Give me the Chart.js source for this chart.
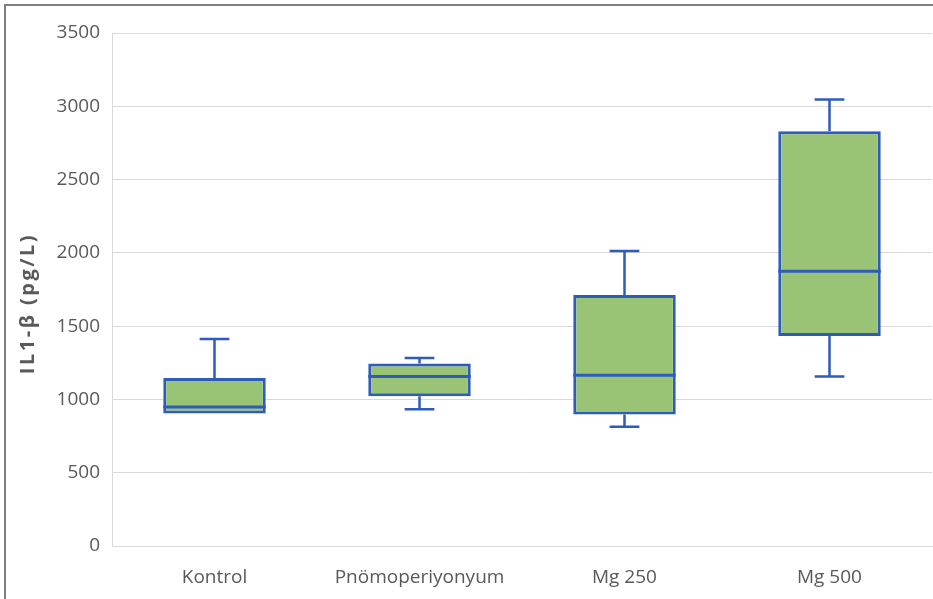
<!DOCTYPE html>
<html>
<head>
<meta charset="utf-8">
<script src="https://cdn.jsdelivr.net/npm/chart.js@4.4.1/dist/chart.umd.min.js"></script>
<style>
  body { margin: 0; background: #fff; }
  #wrap { position: relative; width: 933px; height: 599px; overflow: hidden; }
  #frame { position: absolute; left: 4px; top: 4px; width: 1000px; height: 700px;
           border-left: 2px solid #7f7f7f; border-top: 2px solid #7f7f7f; pointer-events: none; }
</style>
</head>
<body>
<div id="wrap">
  <canvas id="myChart" width="933" height="599"></canvas>
  <div id="frame"></div>
</div>
<script>
// groups
const categories = ["Kontrol", "Pnömoperiyonyum", "Mg 250", "Mg 500"];
// box plot values (pg/L)
const whiskerMin = [900, 933, 814, 1157];
const q1 = [904, 1022, 897, 1433];
const median = [948, 1157, 1165, 1875];
const q3 = [1146, 1245, 1713, 2829];
const whiskerMax = [1412, 1282, 2012, 3047];
const yTicks = [0, 500, 1000, 1500, 2000, 2500, 3000, 3500];

const boxFill = '#99c476';
const edgeBlue = '#2f5cba';
const textGray = '#595959';

// whiskers + median line, drawn on top of the floating bars
const boxWhiskers = {
    id: 'boxWhiskers',
    afterDatasetsDraw(chart) {
        const ctx = chart.ctx;
        const y = chart.scales.y;
        const meta = chart.getDatasetMeta(0);
        ctx.save();
        ctx.strokeStyle = edgeBlue;
        meta.data.forEach((bar, i) => {
            const cx = bar.x;
            const half = bar.width / 2;
            const cap = bar.width * 0.145;
            const yTop = y.getPixelForValue(q3[i]);
            const yBot = y.getPixelForValue(q1[i]);
            const yMax = y.getPixelForValue(whiskerMax[i]);
            const yMin = y.getPixelForValue(whiskerMin[i]);
            const yMed = y.getPixelForValue(median[i]);

            ctx.lineWidth = 2.5;
            ctx.beginPath();
            ctx.moveTo(cx, yTop); ctx.lineTo(cx, yMax);
            ctx.moveTo(cx - cap, yMax); ctx.lineTo(cx + cap, yMax);
            if (yMin - yBot > 2) {
                ctx.moveTo(cx, yBot); ctx.lineTo(cx, yMin);
                ctx.moveTo(cx - cap, yMin); ctx.lineTo(cx + cap, yMin);
            }
            ctx.stroke();

            ctx.lineWidth = 3;
            ctx.beginPath();
            ctx.moveTo(cx - half, yMed); ctx.lineTo(cx + half, yMed);
            ctx.stroke();
        });
        ctx.restore();
    }
};

const boxes = categories.map((c, i) => [q1[i], q3[i]]);

Chart.defaults.font.family = "'Open Sans', sans-serif";
Chart.defaults.color = textGray;

new Chart(document.getElementById('myChart'), {
    type: 'bar',
    data: {
        labels: categories,
        datasets: [{
            data: boxes,
            backgroundColor: boxFill,
            borderColor: edgeBlue,
            borderWidth: 3,
            borderSkipped: false,
            barPercentage: 0.5,
            categoryPercentage: 1
        }]
    },
    options: {
        responsive: false,
        animation: false,
        layout: { padding: { top: 33, right: 1, bottom: 0, left: 0 } },
        plugins: {
            legend: { display: false },
            tooltip: { enabled: false }
        },
        scales: {
            x: {
                afterFit: (scale) => { scale.height = 53; },
                grid: { display: false, drawTicks: false },
                border: { color: '#d9d9d9', width: 1 },
                ticks: { font: { size: 19 }, padding: 20, color: textGray }
            },
            y: {
                min: 0,
                max: 3500,
                afterBuildTicks: (scale) => { scale.ticks = yTicks.map(v => ({ value: v })); },
                afterFit: (scale) => {
                    scale.width = 112;
                    // the title in the picture is spread out and sits a bit low
                    if (!scale._titleWrapped) {
                        const orig = scale.drawTitle;
                        scale.drawTitle = function () {
                            const ctx = this.ctx;
                            ctx.save();
                            ctx.translate(0, 14);
                            ctx.letterSpacing = '2.5px';
                            orig.call(this);
                            ctx.restore();
                        };
                        scale._titleWrapped = true;
                    }
                },
                grid: { color: '#d9d9d9', lineWidth: 1, drawTicks: false },
                border: { color: '#d9d9d9', width: 1 },
                ticks: { font: { size: 19 }, padding: 12, color: textGray, callback: (v) => v },
                title: {
                    display: true,
                    text: 'IL1-β (pg/L)',
                    font: { size: 20, weight: 'bold' },
                    color: textGray,
                    padding: { top: 16, bottom: 0 }
                }
            }
        }
    },
    plugins: [boxWhiskers]
});
</script>
</body>
</html>
